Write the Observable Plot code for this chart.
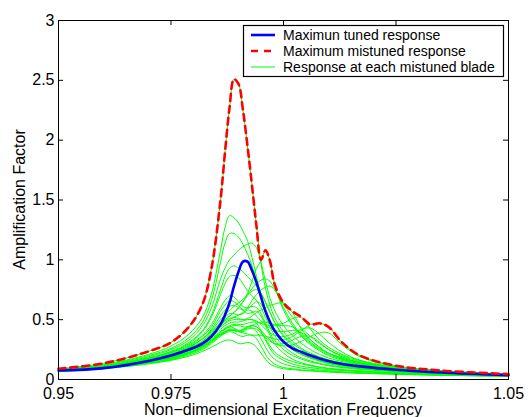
<!DOCTYPE html>
<html><head><meta charset="utf-8">
<script src="https://cdn.jsdelivr.net/npm/d3@7"></script>
<script src="https://cdn.jsdelivr.net/npm/@observablehq/plot@0.6"></script>
<style>body{margin:0;background:#fff}</style>
</head><body><div id="chart"></div>
<script>
const freq = [0.95, 0.96, 0.97, 0.975, 0.979, 0.982, 0.984, 0.986, 0.987, 0.988, 0.989, 0.990, 0.991, 0.992, 0.993, 0.994, 0.995, 0.996, 0.997, 0.998, 1.000, 1.002, 1.004, 1.006, 1.008, 1.010, 1.013, 1.017, 1.025, 1.035, 1.05];

const tuned = [0.075, 0.095, 0.155, 0.20, 0.25, 0.30, 0.36, 0.46, 0.54, 0.64, 0.78, 0.90, 0.985, 0.985, 0.91, 0.81, 0.69, 0.57, 0.48, 0.41, 0.315, 0.26, 0.23, 0.20, 0.175, 0.155, 0.13, 0.11, 0.082, 0.058, 0.035];
const mistunedMax = [0.09, 0.135, 0.235, 0.31, 0.44, 0.63, 0.93, 1.50, 1.90, 2.27, 2.51, 2.47, 2.25, 1.95, 1.62, 1.28, 1.00, 1.08, 0.99, 0.80, 0.64, 0.57, 0.52, 0.46, 0.47, 0.44, 0.31, 0.20, 0.115, 0.075, 0.045];

const bladeA = [0.09, 0.135, 0.235, 0.31, 0.44, 0.63, 0.93, 1.50, 1.90, 2.27, 2.51, 2.47, 2.25, 1.95, 1.62, 1.28, 0.97, 0.76, 0.62, 0.52, 0.40, 0.32, 0.26, 0.22, 0.19, 0.165, 0.14, 0.115, 0.085, 0.06, 0.04];
const bladeB = [0.085, 0.125, 0.21, 0.28, 0.38, 0.52, 0.72, 1.08, 1.27, 1.37, 1.35, 1.31, 1.24, 1.16, 1.02, 0.86, 0.70, 0.57, 0.47, 0.40, 0.31, 0.25, 0.21, 0.18, 0.16, 0.14, 0.12, 0.10, 0.075, 0.055, 0.038];
const bladeC = [0.085, 0.12, 0.2, 0.26, 0.35, 0.48, 0.66, 0.98, 1.14, 1.22, 1.22, 1.19, 1.13, 1.05, 0.95, 0.82, 0.68, 0.56, 0.47, 0.40, 0.31, 0.25, 0.21, 0.18, 0.155, 0.135, 0.115, 0.095, 0.07, 0.05, 0.035];
const bladeD = [0.08, 0.115, 0.19, 0.25, 0.33, 0.45, 0.60, 0.84, 0.93, 1.0, 1.04, 1.08, 1.11, 1.13, 1.14, 1.10, 0.98, 0.82, 0.68, 0.58, 0.45, 0.37, 0.30, 0.25, 0.21, 0.18, 0.15, 0.12, 0.085, 0.06, 0.04];
const bladeE = [0.08, 0.11, 0.18, 0.235, 0.31, 0.41, 0.54, 0.75, 0.86, 0.93, 0.95, 0.93, 0.90, 0.86, 0.82, 0.78, 0.72, 0.64, 0.56, 0.48, 0.37, 0.30, 0.25, 0.21, 0.18, 0.16, 0.135, 0.11, 0.08, 0.055, 0.038];
const bladeF = [0.075, 0.105, 0.165, 0.21, 0.27, 0.34, 0.40, 0.47, 0.50, 0.53, 0.56, 0.60, 0.65, 0.72, 0.82, 0.93, 0.99, 1.08, 0.99, 0.80, 0.58, 0.45, 0.36, 0.29, 0.24, 0.20, 0.16, 0.125, 0.085, 0.06, 0.04];
const bladeG = [0.07, 0.1, 0.155, 0.195, 0.25, 0.31, 0.37, 0.44, 0.47, 0.49, 0.50, 0.50, 0.50, 0.51, 0.53, 0.56, 0.58, 0.60, 0.62, 0.63, 0.64, 0.56, 0.42, 0.33, 0.27, 0.22, 0.18, 0.14, 0.095, 0.065, 0.042];
const bladeH = [0.07, 0.1, 0.15, 0.19, 0.24, 0.29, 0.34, 0.40, 0.42, 0.44, 0.45, 0.45, 0.44, 0.44, 0.45, 0.47, 0.48, 0.48, 0.47, 0.46, 0.47, 0.51, 0.52, 0.42, 0.33, 0.27, 0.21, 0.16, 0.105, 0.07, 0.045];
const bladeI = [0.072, 0.1, 0.15, 0.185, 0.23, 0.28, 0.33, 0.38, 0.40, 0.41, 0.41, 0.40, 0.39, 0.38, 0.37, 0.37, 0.37, 0.36, 0.35, 0.34, 0.33, 0.36, 0.41, 0.46, 0.47, 0.44, 0.31, 0.20, 0.115, 0.075, 0.045];
const bladeJ = [0.075, 0.105, 0.165, 0.21, 0.27, 0.34, 0.41, 0.50, 0.54, 0.58, 0.61, 0.64, 0.67, 0.71, 0.76, 0.80, 0.83, 0.84, 0.82, 0.76, 0.60, 0.47, 0.37, 0.30, 0.25, 0.21, 0.17, 0.13, 0.09, 0.06, 0.04];
const bladeK = [0.072, 0.1, 0.155, 0.195, 0.25, 0.31, 0.37, 0.44, 0.47, 0.50, 0.52, 0.54, 0.56, 0.60, 0.66, 0.71, 0.75, 0.77, 0.78, 0.75, 0.63, 0.52, 0.43, 0.36, 0.30, 0.25, 0.20, 0.15, 0.10, 0.065, 0.042];
const bladeL = [0.08, 0.11, 0.175, 0.225, 0.29, 0.37, 0.46, 0.60, 0.66, 0.70, 0.69, 0.65, 0.61, 0.60, 0.61, 0.60, 0.55, 0.47, 0.39, 0.33, 0.25, 0.20, 0.17, 0.145, 0.13, 0.115, 0.10, 0.085, 0.065, 0.048, 0.034];
const bladeM = [0.08, 0.11, 0.17, 0.22, 0.28, 0.36, 0.44, 0.57, 0.62, 0.66, 0.65, 0.62, 0.58, 0.55, 0.56, 0.57, 0.53, 0.45, 0.37, 0.30, 0.22, 0.17, 0.14, 0.12, 0.105, 0.095, 0.083, 0.072, 0.058, 0.045, 0.032];
const bladeN = [0.078, 0.108, 0.165, 0.21, 0.27, 0.34, 0.42, 0.53, 0.58, 0.61, 0.62, 0.60, 0.58, 0.59, 0.62, 0.65, 0.63, 0.56, 0.48, 0.41, 0.31, 0.25, 0.21, 0.18, 0.155, 0.135, 0.115, 0.095, 0.07, 0.05, 0.035];
const bladeO = [0.076, 0.105, 0.16, 0.2, 0.26, 0.32, 0.39, 0.48, 0.52, 0.55, 0.55, 0.54, 0.55, 0.58, 0.57, 0.53, 0.49, 0.46, 0.45, 0.45, 0.45, 0.44, 0.38, 0.31, 0.26, 0.22, 0.18, 0.14, 0.095, 0.065, 0.042];
const bladeP = [0.072, 0.1, 0.15, 0.19, 0.24, 0.29, 0.35, 0.42, 0.45, 0.47, 0.48, 0.48, 0.49, 0.50, 0.50, 0.49, 0.46, 0.42, 0.39, 0.37, 0.36, 0.38, 0.42, 0.43, 0.38, 0.31, 0.23, 0.16, 0.10, 0.065, 0.04];
const bladeQ = [0.07, 0.098, 0.145, 0.18, 0.225, 0.27, 0.32, 0.38, 0.40, 0.42, 0.42, 0.41, 0.42, 0.44, 0.45, 0.44, 0.41, 0.37, 0.33, 0.30, 0.28, 0.29, 0.32, 0.36, 0.39, 0.39, 0.29, 0.19, 0.11, 0.07, 0.042];
const bladeR = [0.07, 0.097, 0.145, 0.18, 0.225, 0.27, 0.32, 0.37, 0.39, 0.41, 0.41, 0.40, 0.40, 0.42, 0.43, 0.42, 0.39, 0.35, 0.32, 0.30, 0.30, 0.33, 0.36, 0.36, 0.31, 0.25, 0.19, 0.14, 0.09, 0.06, 0.04];
const bladeS = [0.07, 0.095, 0.14, 0.175, 0.22, 0.27, 0.32, 0.39, 0.42, 0.44, 0.43, 0.41, 0.41, 0.43, 0.43, 0.40, 0.34, 0.27, 0.21, 0.17, 0.13, 0.11, 0.095, 0.085, 0.078, 0.072, 0.065, 0.058, 0.048, 0.038, 0.028];
const bladeT = [0.07, 0.095, 0.14, 0.17, 0.215, 0.26, 0.31, 0.37, 0.40, 0.42, 0.41, 0.40, 0.41, 0.44, 0.45, 0.44, 0.40, 0.33, 0.26, 0.21, 0.16, 0.13, 0.11, 0.10, 0.09, 0.083, 0.075, 0.066, 0.053, 0.042, 0.031];
const bladeU = [0.068, 0.092, 0.135, 0.165, 0.205, 0.25, 0.30, 0.36, 0.385, 0.40, 0.39, 0.37, 0.36, 0.37, 0.37, 0.34, 0.28, 0.21, 0.16, 0.13, 0.10, 0.09, 0.08, 0.075, 0.07, 0.066, 0.06, 0.054, 0.045, 0.036, 0.027];
const bladeV = [0.066, 0.09, 0.13, 0.16, 0.195, 0.235, 0.27, 0.31, 0.325, 0.33, 0.32, 0.30, 0.30, 0.31, 0.30, 0.27, 0.22, 0.17, 0.13, 0.11, 0.09, 0.082, 0.076, 0.071, 0.066, 0.062, 0.057, 0.052, 0.044, 0.035, 0.027];
const bladeW = [0.07, 0.097, 0.145, 0.18, 0.225, 0.28, 0.33, 0.40, 0.43, 0.45, 0.46, 0.46, 0.46, 0.47, 0.48, 0.48, 0.47, 0.45, 0.43, 0.41, 0.40, 0.41, 0.39, 0.33, 0.27, 0.22, 0.17, 0.13, 0.09, 0.062, 0.04];
const bladeX = [0.075, 0.103, 0.155, 0.195, 0.25, 0.31, 0.37, 0.45, 0.49, 0.51, 0.52, 0.51, 0.50, 0.50, 0.50, 0.47, 0.41, 0.34, 0.28, 0.23, 0.18, 0.15, 0.13, 0.115, 0.10, 0.09, 0.08, 0.07, 0.055, 0.043, 0.031];
const bladeY = [0.08, 0.112, 0.18, 0.23, 0.30, 0.40, 0.52, 0.71, 0.80, 0.86, 0.87, 0.85, 0.80, 0.74, 0.70, 0.66, 0.60, 0.52, 0.44, 0.37, 0.28, 0.22, 0.18, 0.155, 0.135, 0.12, 0.105, 0.09, 0.068, 0.05, 0.035];
const bladeZ = [0.076, 0.105, 0.16, 0.2, 0.26, 0.32, 0.38, 0.46, 0.50, 0.53, 0.56, 0.60, 0.65, 0.70, 0.74, 0.75, 0.72, 0.65, 0.56, 0.48, 0.36, 0.28, 0.23, 0.19, 0.165, 0.145, 0.12, 0.10, 0.075, 0.053, 0.037];

const blades = [bladeA, bladeB, bladeC, bladeD, bladeE, bladeF, bladeG, bladeH, bladeI, bladeJ, bladeK, bladeL, bladeM,
  bladeN, bladeO, bladeP, bladeQ, bladeR, bladeS, bladeT, bladeU, bladeV, bladeW, bladeX, bladeY, bladeZ];

const xTicks = [0.95, 0.975, 1, 1.025, 1.05];
const xTickLabels = ["0.95", "0.975", "1", "1.025", "1.05"];
const yTicks = [0, 0.5, 1, 1.5, 2, 2.5, 3];
const yTickLabels = ["0", "0.5", "1", "1.5", "2", "2.5", "3"];
const xTitle = "Non\u2212dimensional Excitation Frequency";
const yTitle = "Amplification Factor";
const legendLabels = ["Maximun tuned response", "Maximum mistuned response", "Response at each mistuned blade"];

const bladeRows = blades.flatMap((ys, k) => ys.map((y, i) => ({blade: k, x: freq[i], y})));
const tunedRows = tuned.map((y, i) => ({x: freq[i], y}));
const maxRows = mistunedMax.map((y, i) => ({x: freq[i], y}));

const W = 530, H = 417, mL = 58, mR = 22, mT = 20, mB = 38;
const fw = W - mL - mR, fh = H - mT - mB, tick = 5;

const svg = Plot.plot({
  width: W, height: H,
  marginLeft: mL, marginRight: mR, marginTop: mT, marginBottom: mB,
  x: {domain: [0.95, 1.05]},
  y: {domain: [0, 3]},
  style: {fontFamily: "'Liberation Sans', Arial, sans-serif", fontSize: "16px", background: "#fff", color: "#000"},
  marks: [
    Plot.line(bladeRows, {x: "x", y: "y", z: "blade", stroke: "#00ff00", strokeWidth: 1, curve: "catmull-rom"}),
    Plot.line(tunedRows, {x: "x", y: "y", stroke: "#0000ff", strokeWidth: 2.6, curve: "catmull-rom"}),
    Plot.line(maxRows, {x: "x", y: "y", stroke: "#ff0000", strokeWidth: 2.6, strokeDasharray: "7,5", curve: "catmull-rom"}),
    Plot.frame({stroke: "#000", strokeWidth: 1}),
    Plot.ruleX(xTicks, {x: d => d, insetTop: fh - tick, stroke: "#000"}),
    Plot.ruleX(xTicks, {x: d => d, insetBottom: fh - tick, stroke: "#000"}),
    Plot.ruleY(yTicks, {y: d => d, insetRight: fw - tick, stroke: "#000"}),
    Plot.ruleY(yTicks, {y: d => d, insetLeft: fw - tick, stroke: "#000"}),
    Plot.axisX({ticks: xTicks, tickFormat: d => xTickLabels[xTicks.indexOf(d)], tickSize: 0, tickPadding: 8, fontSize: 16, label: null}),
    Plot.axisY({ticks: yTicks, tickFormat: d => yTickLabels[yTicks.indexOf(d)], tickSize: 0, tickPadding: 4, fontSize: 16, label: null})
  ]
});

const s = d3.select(svg);
s.append("text").attr("x", mL + fw / 2).attr("y", 415).attr("text-anchor", "middle")
  .attr("font-size", 16).attr("fill", "#000").text(xTitle);
s.append("text").attr("transform", `translate(25,${mT + fh / 2}) rotate(-90)`).attr("text-anchor", "middle")
  .attr("font-size", 16).attr("fill", "#000").text(yTitle);

const lg = s.append("g").attr("text-anchor", "start");
lg.append("rect").attr("x", 243.5).attr("y", 25.5).attr("width", 260).attr("height", 51)
  .attr("fill", "#fff").attr("stroke", "#000").attr("stroke-width", 1.2);
const legendStyles = [
  {stroke: "#0000ff", width: 2.6, dash: null},
  {stroke: "#ff0000", width: 2.6, dash: "7,6"},
  {stroke: "#00ff00", width: 1, dash: null}
];
legendLabels.forEach((lab, i) => {
  const cy = 35 + i * 16;
  const st = legendStyles[i];
  const ln = lg.append("line").attr("x1", 251).attr("x2", 275).attr("y1", cy).attr("y2", cy)
    .attr("stroke", st.stroke).attr("stroke-width", st.width);
  if (st.dash) ln.attr("stroke-dasharray", st.dash);
  lg.append("text").attr("x", 283).attr("y", cy + 5).attr("text-anchor", "start")
    .attr("font-size", 14).attr("fill", "#000").text(lab);
});

document.getElementById("chart").appendChild(svg);
</script>
</body></html>
